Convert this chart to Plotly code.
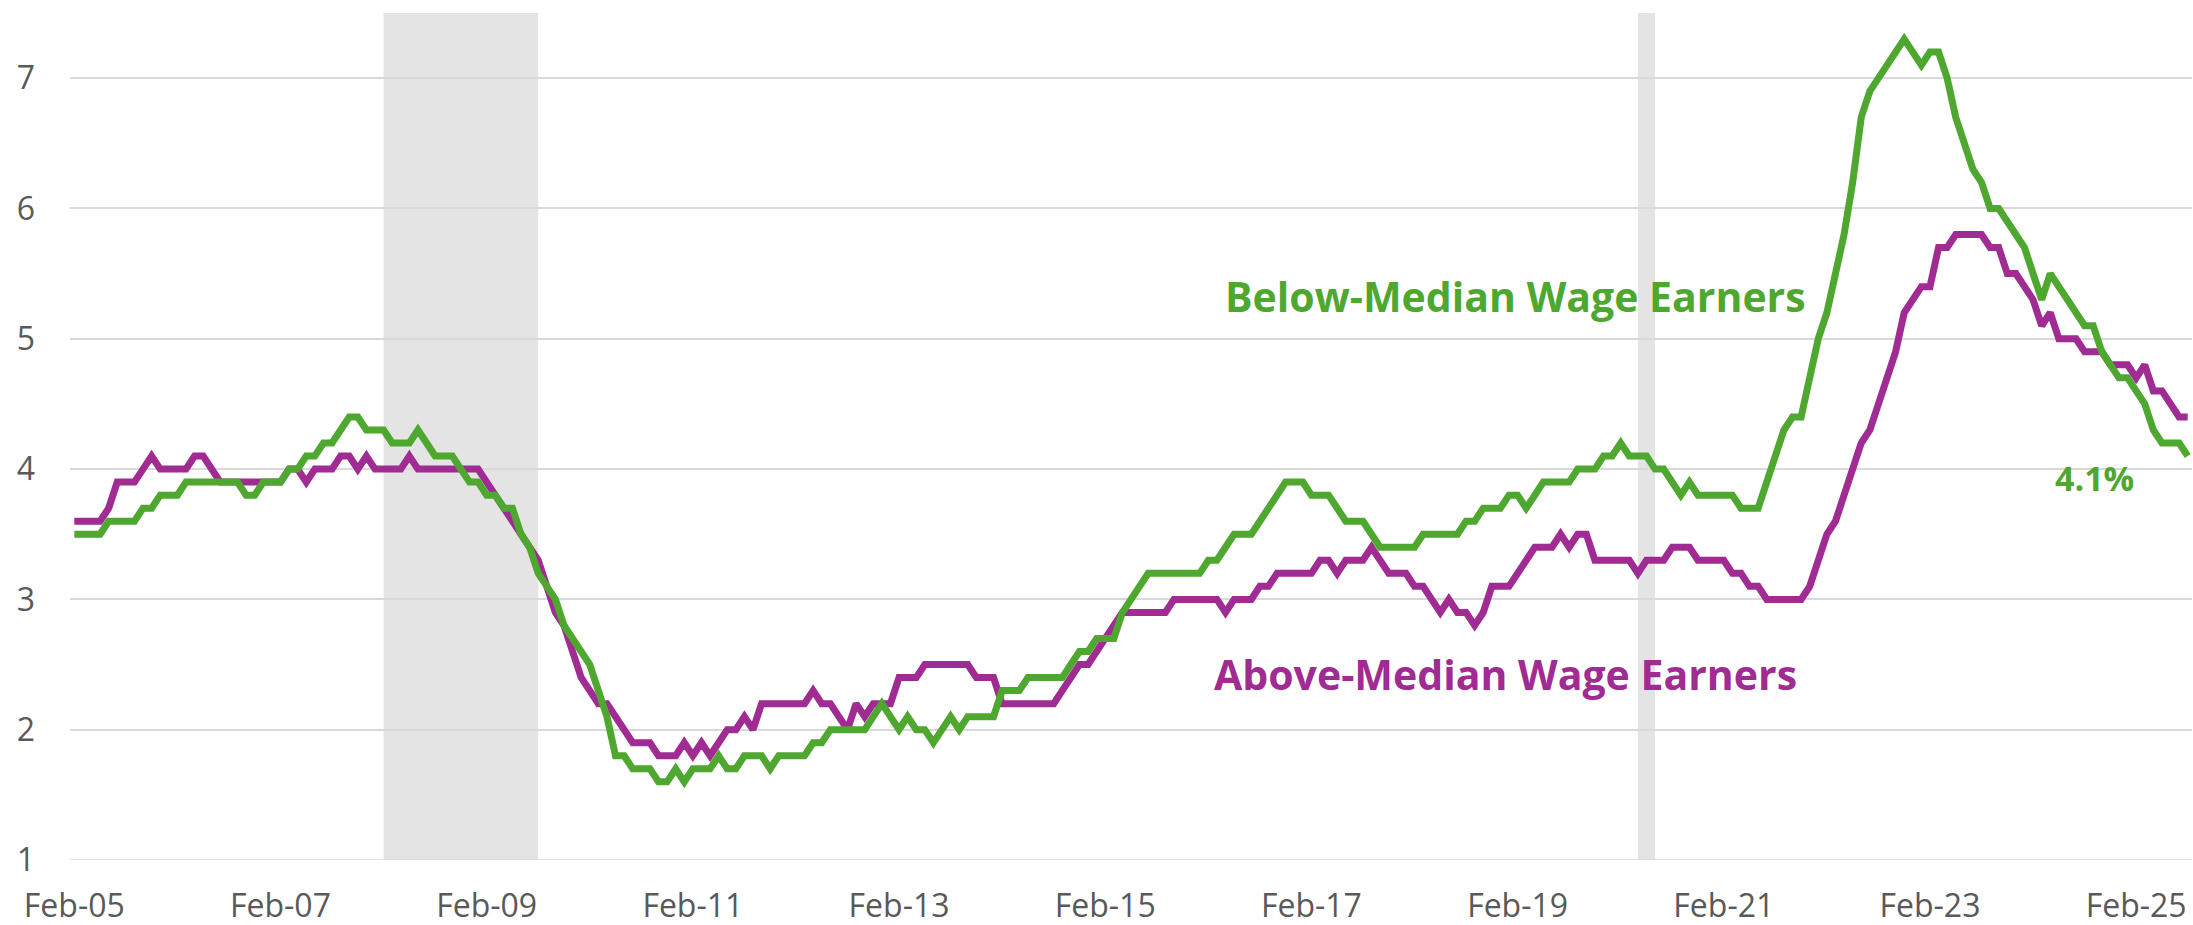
import pandas as pd
import plotly.graph_objects as go

# ---- data (12-month wage growth, %, monthly from Feb-05) ----
start_month = "2005-02-01"
below_median = [
    3.5, 3.5, 3.5, 3.5, 3.6, 3.6, 3.6, 3.6, 3.7, 3.7, 3.8, 3.8,  # Feb-05..Jan-06
    3.8, 3.9, 3.9, 3.9, 3.9, 3.9, 3.9, 3.9, 3.8, 3.8, 3.9, 3.9,  # Feb-06..Jan-07
    3.9, 4.0, 4.0, 4.1, 4.1, 4.2, 4.2, 4.3, 4.4, 4.4, 4.3, 4.3,  # Feb-07..Jan-08
    4.3, 4.2, 4.2, 4.2, 4.3, 4.2, 4.1, 4.1, 4.1, 4.0, 3.9, 3.9,  # Feb-08..Jan-09
    3.8, 3.8, 3.7, 3.7, 3.5, 3.4, 3.2, 3.1, 3.0, 2.8, 2.7, 2.6,  # Feb-09..Jan-10
    2.5, 2.3, 2.1, 1.8, 1.8, 1.7, 1.7, 1.7, 1.6, 1.6, 1.7, 1.6,  # Feb-10..Jan-11
    1.7, 1.7, 1.7, 1.8, 1.7, 1.7, 1.8, 1.8, 1.8, 1.7, 1.8, 1.8,  # Feb-11..Jan-12
    1.8, 1.8, 1.9, 1.9, 2.0, 2.0, 2.0, 2.0, 2.0, 2.1, 2.2, 2.1,  # Feb-12..Jan-13
    2.0, 2.1, 2.0, 2.0, 1.9, 2.0, 2.1, 2.0, 2.1, 2.1, 2.1, 2.1,  # Feb-13..Jan-14
    2.3, 2.3, 2.3, 2.4, 2.4, 2.4, 2.4, 2.4, 2.5, 2.6, 2.6, 2.7,  # Feb-14..Jan-15
    2.7, 2.7, 2.9, 3.0, 3.1, 3.2, 3.2, 3.2, 3.2, 3.2, 3.2, 3.2,  # Feb-15..Jan-16
    3.3, 3.3, 3.4, 3.5, 3.5, 3.5, 3.6, 3.7, 3.8, 3.9, 3.9, 3.9,  # Feb-16..Jan-17
    3.8, 3.8, 3.8, 3.7, 3.6, 3.6, 3.6, 3.5, 3.4, 3.4, 3.4, 3.4,  # Feb-17..Jan-18
    3.4, 3.5, 3.5, 3.5, 3.5, 3.5, 3.6, 3.6, 3.7, 3.7, 3.7, 3.8,  # Feb-18..Jan-19
    3.8, 3.7, 3.8, 3.9, 3.9, 3.9, 3.9, 4.0, 4.0, 4.0, 4.1, 4.1,  # Feb-19..Jan-20
    4.2, 4.1, 4.1, 4.1, 4.0, 4.0, 3.9, 3.8, 3.9, 3.8, 3.8, 3.8,  # Feb-20..Jan-21
    3.8, 3.8, 3.7, 3.7, 3.7, 3.9, 4.1, 4.3, 4.4, 4.4, 4.7, 5.0,  # Feb-21..Jan-22
    5.2, 5.5, 5.8, 6.2, 6.7, 6.9, 7.0, 7.1, 7.2, 7.3, 7.2, 7.1,  # Feb-22..Jan-23
    7.2, 7.2, 7.0, 6.7, 6.5, 6.3, 6.2, 6.0, 6.0, 5.9, 5.8, 5.7,  # Feb-23..Jan-24
    5.5, 5.3, 5.5, 5.4, 5.3, 5.2, 5.1, 5.1, 4.9, 4.8, 4.7, 4.7,  # Feb-24..Jan-25
    4.6, 4.5, 4.3, 4.2, 4.2, 4.2, 4.1,                           # Feb-25..Aug-25
]
above_median = [
    3.6, 3.6, 3.6, 3.6, 3.7, 3.9, 3.9, 3.9, 4.0, 4.1, 4.0, 4.0,  # Feb-05..Jan-06
    4.0, 4.0, 4.1, 4.1, 4.0, 3.9, 3.9, 3.9, 3.9, 3.9, 3.9, 3.9,  # Feb-06..Jan-07
    3.9, 4.0, 4.0, 3.9, 4.0, 4.0, 4.0, 4.1, 4.1, 4.0, 4.1, 4.0,  # Feb-07..Jan-08
    4.0, 4.0, 4.0, 4.1, 4.0, 4.0, 4.0, 4.0, 4.0, 4.0, 4.0, 4.0,  # Feb-08..Jan-09
    3.9, 3.8, 3.7, 3.6, 3.5, 3.4, 3.3, 3.1, 2.9, 2.8, 2.6, 2.4,  # Feb-09..Jan-10
    2.3, 2.2, 2.2, 2.1, 2.0, 1.9, 1.9, 1.9, 1.8, 1.8, 1.8, 1.9,  # Feb-10..Jan-11
    1.8, 1.9, 1.8, 1.9, 2.0, 2.0, 2.1, 2.0, 2.2, 2.2, 2.2, 2.2,  # Feb-11..Jan-12
    2.2, 2.2, 2.3, 2.2, 2.2, 2.1, 2.0, 2.2, 2.1, 2.2, 2.2, 2.2,  # Feb-12..Jan-13
    2.4, 2.4, 2.4, 2.5, 2.5, 2.5, 2.5, 2.5, 2.5, 2.4, 2.4, 2.4,  # Feb-13..Jan-14
    2.2, 2.2, 2.2, 2.2, 2.2, 2.2, 2.2, 2.3, 2.4, 2.5, 2.5, 2.6,  # Feb-14..Jan-15
    2.7, 2.8, 2.9, 2.9, 2.9, 2.9, 2.9, 2.9, 3.0, 3.0, 3.0, 3.0,  # Feb-15..Jan-16
    3.0, 3.0, 2.9, 3.0, 3.0, 3.0, 3.1, 3.1, 3.2, 3.2, 3.2, 3.2,  # Feb-16..Jan-17
    3.2, 3.3, 3.3, 3.2, 3.3, 3.3, 3.3, 3.4, 3.3, 3.2, 3.2, 3.2,  # Feb-17..Jan-18
    3.1, 3.1, 3.0, 2.9, 3.0, 2.9, 2.9, 2.8, 2.9, 3.1, 3.1, 3.1,  # Feb-18..Jan-19
    3.2, 3.3, 3.4, 3.4, 3.4, 3.5, 3.4, 3.5, 3.5, 3.3, 3.3, 3.3,  # Feb-19..Jan-20
    3.3, 3.3, 3.2, 3.3, 3.3, 3.3, 3.4, 3.4, 3.4, 3.3, 3.3, 3.3,  # Feb-20..Jan-21
    3.3, 3.2, 3.2, 3.1, 3.1, 3.0, 3.0, 3.0, 3.0, 3.0, 3.1, 3.3,  # Feb-21..Jan-22
    3.5, 3.6, 3.8, 4.0, 4.2, 4.3, 4.5, 4.7, 4.9, 5.2, 5.3, 5.4,  # Feb-22..Jan-23
    5.4, 5.7, 5.7, 5.8, 5.8, 5.8, 5.8, 5.7, 5.7, 5.5, 5.5, 5.4,  # Feb-23..Jan-24
    5.3, 5.1, 5.2, 5.0, 5.0, 5.0, 4.9, 4.9, 4.9, 4.8, 4.8, 4.8,  # Feb-24..Jan-25
    4.7, 4.8, 4.6, 4.6, 4.5, 4.4, 4.4,                           # Feb-25..Aug-25
]
recessions = [("Feb-08", "Aug-09"), ("Apr-20", "Jun-20")]
y_ticks = [1, 2, 3, 4, 5, 6, 7]
series_names = ["Above-Median Wage Earners", "Below-Median Wage Earners"]
last_value_label = "4.1%"

months = pd.date_range(start_month, periods=len(below_median), freq="MS").strftime("%b-%y").tolist()
x_ticks = months[::24]

GREEN = "#4EA72E"
PURPLE = "#A02B93"
GRID = "#D9D9D9"
SHADE = "#E4E4E4"
TICKC = "#595959"
FONT = "Open Sans"

fig = go.Figure()
fig.add_trace(go.Scatter(x=months, y=above_median, mode="lines", name=series_names[0],
                         line=dict(color=PURPLE, width=7), hoverinfo="skip"))
fig.add_trace(go.Scatter(x=months, y=below_median, mode="lines", name=series_names[1],
                         line=dict(color=GREEN, width=7), hoverinfo="skip"))

for a, b in recessions:
    fig.add_shape(type="rect", xref="x", yref="paper", x0=months.index(a), x1=months.index(b),
                  y0=0, y1=1, fillcolor=SHADE, line=dict(width=0), layer="between")
fig.add_shape(type="line", xref="paper", yref="y", x0=0, x1=1, y0=y_ticks[0], y1=y_ticks[0],
              line=dict(color=GRID, width=1.5), layer="between")

fig.add_annotation(x=167.8, y=5.33, xref="x", yref="y", text=series_names[1], showarrow=False,
                   font=dict(family=FONT, size=41, color=GREEN, weight="bold"),
                   xanchor="center", yanchor="middle")
fig.add_annotation(x=166.6, y=2.43, xref="x", yref="y", text=series_names[0], showarrow=False,
                   font=dict(family=FONT, size=41, color=PURPLE, weight="bold"),
                   xanchor="center", yanchor="middle")
fig.add_annotation(x=235.1, y=3.93, xref="x", yref="y", text=last_value_label, showarrow=False,
                   font=dict(family=FONT, size=34, color=GREEN, weight="bold"),
                   xanchor="center", yanchor="middle")

fig.update_layout(
    width=2193, height=925,
    margin=dict(l=70, r=1, t=13, b=65, autoexpand=False),
    paper_bgcolor="white", plot_bgcolor="white",
    showlegend=False,
    font=dict(family=FONT, color=TICKC),
)
fig.update_xaxes(type="category", range=[-0.5, len(months) - 0.5], tickvals=x_ticks,
                 showgrid=False, showline=False, zeroline=False, ticks="",
                 tickfont=dict(family=FONT, size=32, color=TICKC), ticklabelstandoff=24,
                 automargin=False)
fig.update_yaxes(range=[1, 7.5], tickvals=y_ticks, showgrid=True, gridcolor=GRID, gridwidth=1.5,
                 showline=False, zeroline=False, ticks="",
                 tickfont=dict(family=FONT, size=32, color=TICKC), ticklabelstandoff=34,
                 automargin=False)

fig.write_html("out.html",
               config={"displayModeBar": False},
               post_script="document.body.style.margin='0px';document.body.style.overflow='hidden';")
